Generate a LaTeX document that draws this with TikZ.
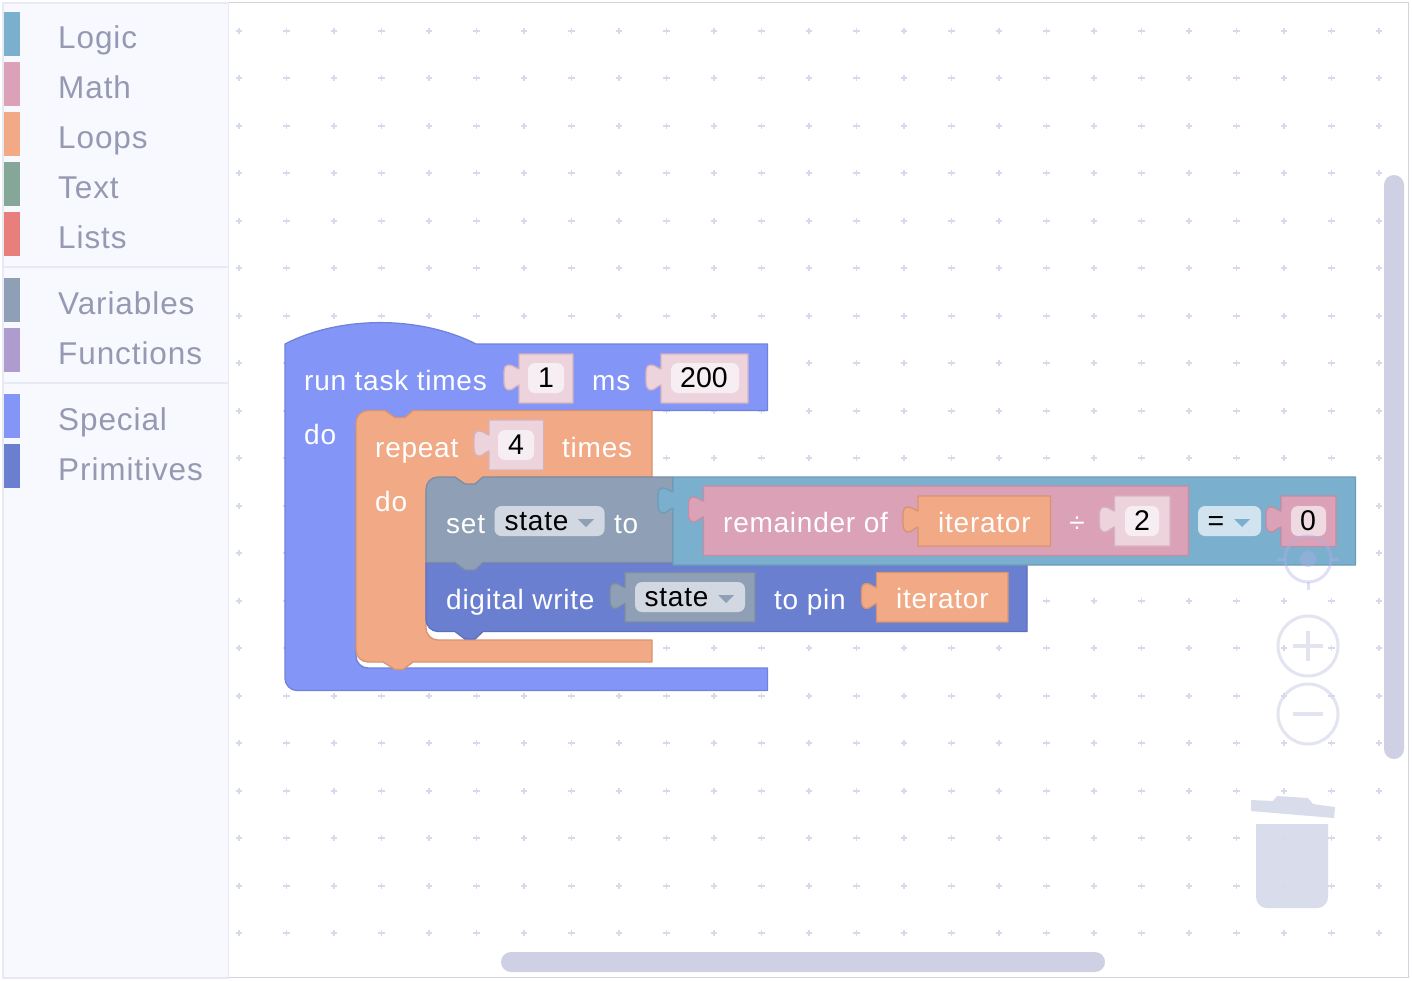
\documentclass[tikz,border=0pt]{standalone}
\usepackage{fontspec}
\setmainfont{Liberation Sans}
\newfontfamily\blkfont[LetterSpace=2.7]{Liberation Sans}
\newfontfamily\sidefont[LetterSpace=2.9]{Liberation Sans}
\definecolor{cLogic}{HTML}{7AAFCE}\definecolor{sLogic}{HTML}{6C9DB9}
\definecolor{cMath}{HTML}{DAA1B7}\definecolor{sMath}{HTML}{C48DA2}
\definecolor{cLoop}{HTML}{F2A985}\definecolor{sLoop}{HTML}{D8946F}
\definecolor{cText}{HTML}{84A797}
\definecolor{cList}{HTML}{E87F7C}
\definecolor{cVar}{HTML}{8F9FB5}\definecolor{sVar}{HTML}{7C8CA2}
\definecolor{cFunc}{HTML}{AE9CCF}
\definecolor{cSpec}{HTML}{8395F7}\definecolor{sSpec}{HTML}{7083DA}
\definecolor{cPrim}{HTML}{6B7FD0}\definecolor{sPrim}{HTML}{5D70BE}
\definecolor{cLit}{HTML}{EDD3DC}\definecolor{sLit}{HTML}{D5B4C0}
\definecolor{cLitIn}{HTML}{F6EEF2}
\definecolor{cSide}{HTML}{F8F9FE}\definecolor{sSide}{HTML}{E8EAF3}
\definecolor{cSideT}{HTML}{9599B2}
\definecolor{cDot}{HTML}{D9DAE9}
\definecolor{cBar}{HTML}{CFD0E3}
\definecolor{cCtl}{HTML}{D9DCEB}
\definecolor{cCtlB}{HTML}{E2E4F0}
\definecolor{cFrame}{HTML}{D3D3DF}
\tikzset{
  x=1pt,y=-1pt,
  blkshape/.style={line width=1.3pt,line join=round},
  spec/.style={blkshape,fill=cSpec,draw=sSpec},
  loopb/.style={blkshape,fill=cLoop,draw=sLoop},
  varb/.style={blkshape,fill=cVar,draw=sVar},
  primb/.style={blkshape,fill=cPrim,draw=sPrim},
  logicb/.style={blkshape,fill=cLogic,draw=sLogic},
  mathb/.style={blkshape,fill=cMath,draw=sMath},
  litb/.style={blkshape,fill=cLit,draw=sLit},
  wt/.style={anchor=base west,inner sep=0pt,text=white,font=\blkfont\fontsize{28}{30}\selectfont},
  bk/.style={anchor=base west,inner sep=0pt,text=black,font=\blkfont\fontsize{28}{30}\selectfont},
  num/.style={anchor=base,inner sep=0pt,text=black,font=\fontsize{28.5}{30}\selectfont},
  sb/.style={anchor=base west,inner sep=0pt,text=cSideT,font=\sidefont\fontsize{31.5}{33}\selectfont},
  ctl/.style={draw=cCtlB,line width=3pt,fill=none},
}
% puzzle block: style, x0, y0, x1, y1 (tab on the left edge)
\newcommand\puzzle[5]{%
  \draw[#1] (#2,#3) -- (#4,#3) -- (#4,#5) -- (#2,#5) -- ({#2},{#3+31})
    .. controls ({#2-4},{#3+32}) and ({#2-6},{#3+36}) .. ({#2-10},{#3+36})
    .. controls ({#2-13},{#3+36}) and ({#2-15},{#3+33}) .. ({#2-15},{#3+28})
    -- ({#2-15},{#3+19})
    .. controls ({#2-15},{#3+14}) and ({#2-14},{#3+11}) .. ({#2-10},{#3+11})
    .. controls ({#2-6},{#3+11}) and ({#2-4},{#3+14}) .. ({#2},{#3+15}) -- cycle;}
\newcommand\inbox[6]{\fill[#5,rounded corners=7pt] (#1,#2) rectangle (#3,#4);}
\newcommand\tri[5]{\fill[#5] (#1,#3) -- (#2,#3) -- ({(#1+#2)/2},#4) -- cycle;}
\begin{document}
\begin{tikzpicture}
\useasboundingbox (0,0) rectangle (1412,980);
\fill[white] (0,0) rectangle (1412,980);
% frame and sidebar
\draw[cFrame,line width=1pt] (228,2.5) -- (1408.5,2.5) -- (1408.5,977.5) -- (228,977.5);
\fill[cSide] (3,3) rectangle (228,978);
\draw[sSide,line width=1.2pt] (3,3) -- (228.5,3) -- (228.5,978) -- (3,978) -- cycle;
\draw[sSide,line width=1.5pt] (4,267) -- (228,267);
\draw[sSide,line width=1.5pt] (4,383) -- (228,383);
\fill[cLogic] (4,12) rectangle (20,56);
\fill[cMath] (4,62) rectangle (20,106);
\fill[cLoop] (4,112) rectangle (20,156);
\fill[cText] (4,162) rectangle (20,206);
\fill[cList] (4,212) rectangle (20,256);
\fill[cVar] (4,278) rectangle (20,322);
\fill[cFunc] (4,328) rectangle (20,372);
\fill[cSpec] (4,394) rectangle (20,438);
\fill[cPrim] (4,444) rectangle (20,488);
\node[sb] (sLogic) at (58,48) {Logic};
\node[sb] (sMath) at (58,98) {Math};
\node[sb] (sLoops) at (58,148) {Loops};
\node[sb] (sText) at (58,198) {Text};
\node[sb] (sLists) at (58,248) {Lists};
\node[sb] (sVars) at (58,314) {Variables};
\node[sb] (sFuncs) at (58,364) {Functions};
\node[sb] (sSpecial) at (58,430) {Special};
\node[sb] (sPrims) at (58,480) {Primitives};
% scrollbars
\fill[cBar,rounded corners=10pt] (1384,175) rectangle (1404,759);
\fill[cBar,rounded corners=10pt] (501,952) rectangle (1105,972);
% trash
\fill[cCtl] (1251,800) -- (1273,801) -- (1277,796) -- (1308,798) -- (1313,804) -- (1335,807) -- (1334,818) -- (1251,811) -- cycle;
\fill[cCtl] (1256,824) -- (1328,824) -- (1328,897) .. controls (1328,903) and (1323,908) .. (1318,908) -- (1266,908) .. controls (1261,908) and (1256,903) .. (1256,897) -- cycle;
% zoom controls
\draw[ctl] (1308,646) circle (30);
\draw[ctl] (1308,714) circle (30);
\draw[cCtlB,line width=3.5pt] (1293,646) -- (1323,646);
\draw[cCtlB,line width=3.5pt] (1308,631) -- (1308,661);
\draw[cCtlB,line width=3.5pt] (1293,714) -- (1323,714);
% dot grid
\foreach \i in {0,...,24}{\foreach \j in {0,...,19}{
  \pgfmathsetmacro\gx{239+47.5*\i}\pgfmathsetmacro\gy{30.7+47.5*\j}
  \draw[cDot,line width=1.7pt] ({\gx-3.2},\gy) -- ({\gx+3.2},\gy) (\gx,{\gy-3.2}) -- (\gx,{\gy+3.2});
}}
% run task block
\fill[cSpec] (356,405) rectangle (425,425);
\draw[spec] (285,344) .. controls (340,315.5) and (420,315.5) .. (476,344) -- (767.5,344) -- (767.5,410.5) -- (356,410.5) -- (356,656) .. controls (356,662.6) and (361.4,668) .. (368,668) -- (767.5,668) -- (767.5,690.5) -- (297,690.5) .. controls (290.4,690.5) and (285,685) .. (285,678.5) -- cycle;
\fill[cSpec] (350,408) rectangle (425,425);
% repeat block
\fill[cLoop] (426,470) rectangle (495,492);
\draw[loopb] (368,410.5) -- (385,410.5) -- (395,417.5) -- (405,417.5) -- (413,410.5) -- (652,410.5) -- (652,477) -- (426,477) -- (426,628) .. controls (426,634.6) and (431.4,640) .. (438,640) -- (652,640) -- (652,662) -- (413,662) -- (403,669.5) -- (395,669.5) -- (383,662) -- (368,662) .. controls (361.4,662) and (356,656.6) .. (356,650) -- (356,422.5) .. controls (356,415.9) and (361.4,410.5) .. (368,410.5) -- cycle;
\fill[cLoop] (420,470) rectangle (495,492);
% digital write block
\draw[primb] (426,562.5) -- (1027,562.5) -- (1027,631.5) -- (483,631.5) -- (475,639) -- (465,639) -- (455,631.5) -- (438,631.5) .. controls (431.4,631.5) and (426,626) .. (426,619.5) -- cycle;
% set block
\draw[varb] (438,477) -- (455,477) -- (465,484) -- (475,484) -- (483,477) -- (673,477) -- (673,562.5) -- (483,562.5) -- (475,570) -- (465,570) -- (455,562.5) -- (426,562.5) -- (426,489) .. controls (426,482.4) and (431.4,477) .. (438,477) -- cycle;
% logic compare
\puzzle{logicb}{673}{477}{1355.5}{565}
\puzzle{mathb}{703.5}{486}{1188.5}{555.5}
\puzzle{loopb}{918}{496}{1050.5}{546}
\puzzle{litb}{1114.5}{496}{1170}{546}
\inbox{1125}{506}{1159}{536}{cLitIn}{}
\inbox{1198}{506}{1261}{536}{cLogic!35!white}{}
\tri{1234}{1250}{519}{527}{cLogic}
\puzzle{mathb}{1281}{496}{1336}{546.5}
\inbox{1291}{506}{1326}{536}{cMath!40!white}{}
% value blocks on the first row
\puzzle{litb}{519}{354}{573}{403}
\inbox{528}{363}{564}{393}{cLitIn}{}
\puzzle{litb}{661}{354}{748}{403}
\inbox{671}{363}{739}{393}{cLitIn}{}
\puzzle{litb}{489}{420}{543.5}{470}
\inbox{498}{430}{534}{460}{cLitIn}{}
% dropdowns
\inbox{494.5}{506}{604.5}{536}{cVar!40!white}{}
\tri{578}{594}{519}{527}{cVar}
\puzzle{varb}{625}{572.5}{755}{622}
\inbox{635}{582}{745}{612}{cVar!40!white}{}
\tri{718}{734}{595}{603}{cVar}
\puzzle{loopb}{876.5}{572.5}{1008}{622}
% texts
\node[wt] (tRun) at (304,390) {run task times};
\node[num] (tOne) at (546,387) {1};
\node[wt] (tMs) at (592,390) {ms};
\node[num] (tTwoH) at (704,387) {200};
\node[wt] (tDoA) at (304,444) {do};
\node[wt] (tRepeat) at (375,457) {repeat};
\node[num] (tFour) at (516,454) {4};
\node[wt] (tTimes) at (562,457) {times};
\node[wt] (tDoB) at (375,511) {do};
\node[wt] (tSet) at (446,533) {set};
\node[bk] (tState) at (504.5,530) {state};
\node[wt] (tTo) at (614,533) {to};
\node[wt] (tRem) at (723,532.5) {remainder of};
\node[wt] (tIterA) at (938,532) {iterator};
\node[wt,anchor=base] (tDiv) at (1077,532) {÷};
\node[num] (tTwo) at (1142,530) {2};
\node[num] (tEq) at (1216,530) {=};
\node[num] (tZero) at (1308,530) {0};
\node[wt] (tDigital) at (446,609) {digital write};
\node[bk] (tStateB) at (644.5,606) {state};
\node[wt] (tPin) at (774,609) {to pin};
\node[wt] (tIterB) at (896,608) {iterator};
% centre control, over the blocks
\begin{scope}[opacity=.4]
\draw[cBar!85!blue,line width=3pt] (1308,559) circle (23);
\draw[cBar!85!blue,line width=3pt] (1277,559) -- (1285,559) (1331,559) -- (1339,559) (1308,582) -- (1308,590);
\fill[cBar!85!blue] (1308,559) circle (8);
\end{scope}
\end{tikzpicture}
\end{document}
